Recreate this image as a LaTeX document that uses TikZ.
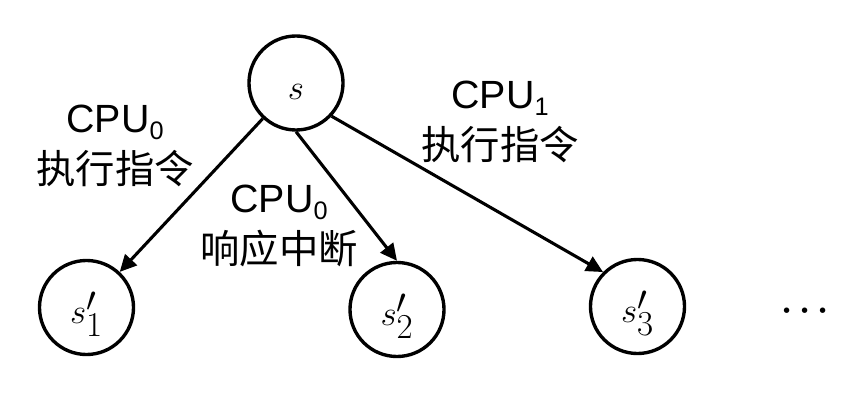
\documentclass[tikz,border=0pt]{standalone}
\usepackage{fontspec}
\setmainfont{Liberation Sans}
\newfontfamily\cjk{Noto Sans CJK SC}
\usetikzlibrary{arrows.meta}
\newcommand{\cpusub}[1]{\raisebox{-0.17cm}{\fontsize{18}{18}\selectfont #1}}

\begin{document}
\begin{tikzpicture}[x=0.025cm,y=-0.025cm]
\tikzstyle{state}=[circle,draw,line width=2.4pt,minimum size=2.35cm,inner sep=0pt,font=\fontsize{35}{40}\selectfont,text height=0.82cm,text depth=0pt]
\tikzstyle{lbl}=[align=center,inner sep=0pt,font=\fontsize{28}{36.5}\selectfont]
\tikzstyle{edge}=[line width=2.2pt,-{Triangle[length=0.42cm,width=0.4cm]}]
\useasboundingbox (0,0) rectangle (868,400);
\foreach \name/\point/\txt in {
	s/{296,83}/s,
	s1/{86.5,307.5}/s'_1,
	s2/{397,309.5}/s'_2,
	s3/{637.5,306.5}/s'_3}
	\node[state] (\name) at (\point) {$\txt$};
	\node[font=\fontsize{32}{36}\selectfont\boldmath,inner sep=0pt] (dots) at (805,311.5) {$\cdots$};
	\draw[edge] (s) -- (s1);
	\draw[edge] (s.south) -- (s2.north);
	\draw[edge] (s.-43) -- (s3.135);
	\node[lbl] (l1) at (115,146) {CPU\cpusub{0}\\{\cjk 执行指令}};
	\node[lbl] (l2) at (279,226) {CPU\cpusub{0}\\{\cjk 响应中断}};
	\node[lbl] (l3) at (500,122) {CPU\cpusub{1}\\{\cjk 执行指令}};
\end{tikzpicture}
\end{document}
